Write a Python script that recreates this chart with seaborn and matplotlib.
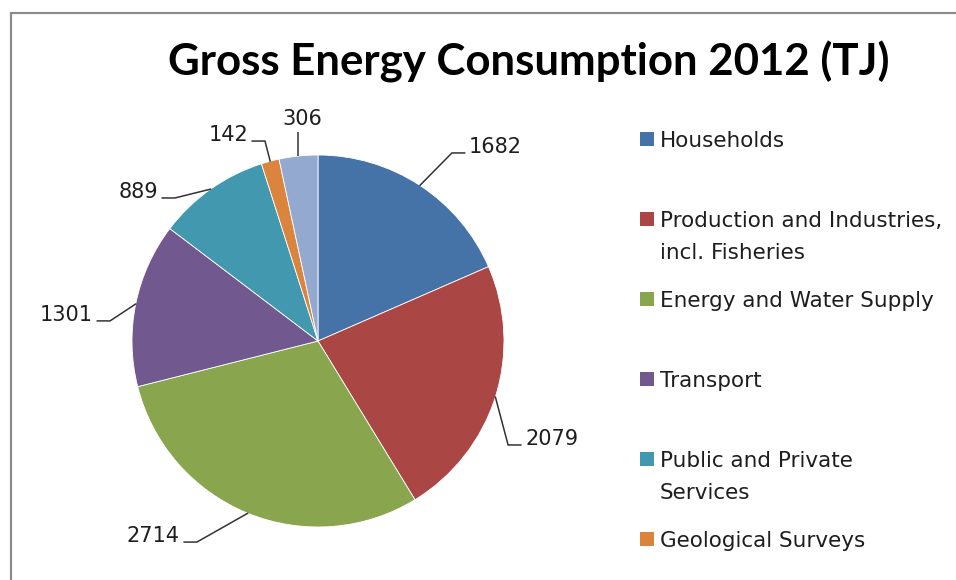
import numpy as np
import matplotlib
matplotlib.use("Agg")
import matplotlib.pyplot as plt
from matplotlib.lines import Line2D
from matplotlib.patches import Rectangle
import seaborn as sns

# Gross energy consumption by sector, 2012 (TJ)
sectors = [
    "Households",
    "Production and Industries,\nincl. Fisheries",
    "Energy and Water Supply",
    "Transport",
    "Public and Private\nServices",
    "Geological Surveys",
    "Other",
]
consumption_tj = [1682, 2079, 2714, 1301, 889, 142, 306]
colors = ["#4572A7", "#AA4643", "#89A54E", "#71588F", "#4198AF", "#DB843D", "#93A9CF"]

sns.set_theme(style="white")
plt.rcParams["font.family"] = ["DejaVu Sans"]

W, H, DPI = 956, 580, 100
fig = plt.figure(figsize=(W / DPI, H / DPI), dpi=DPI)
fig.patch.set_facecolor("white")

# pie axes: centre (318, 341) px, radius 186 px, limits +-1.5
R_PX = 186
cx, cy = 318, 341
box = 1.5 * 2 * R_PX
ax = fig.add_axes([(cx - box / 2) / W, (H - cy - box / 2) / H, box / W, box / H])
wedges, _ = ax.pie(
    consumption_tj,
    colors=colors,
    startangle=90,
    counterclock=False,
    radius=1.0,
    wedgeprops=dict(edgecolor="white", linewidth=0.6),
)
ax.set_xlim(-1.5, 1.5)
ax.set_ylim(-1.5, 1.5)
ax.set_aspect("equal")
ax.axis("off")

# leader-line layout: elbow point (pie units), direction of the label
elbows = [(0.720, 1.011), (1.022, -0.559), (-0.651, -1.081), (-1.118, 0.108),
          (-0.769, 0.769), (-0.285, 1.075), (-0.102, 1.124)]
sides = ["right", "right", "left", "left", "left", "left", "up"]
px = 1.0 / R_PX
label_font = dict(fontsize=15, color="#1e1e1e", family="DejaVu Sans")

for w, val, (ex, ey), side in zip(wedges, consumption_tj, elbows, sides):
    mid = np.deg2rad((w.theta1 + w.theta2) / 2)
    sx, sy = np.cos(mid), np.sin(mid)
    if side == "up":
        ax.plot([sx, sx], [sy, ey], color="#333333", lw=1.1, solid_capstyle="butt", clip_on=False)
        ax.text(sx + 4 * px, ey + 7 * px, f"{val}", ha="center", va="baseline", **label_font)
        continue
    d = 1 if side == "right" else -1
    endx = ex + d * 13 * px
    ax.plot([sx, ex, endx], [sy, ey, ey], color="#333333", lw=1.1,
            solid_joinstyle="miter", clip_on=False)
    ax.text(endx + d * 4 * px, ey, f"{val}", ha="left" if d > 0 else "right",
            va="baseline", **label_font)

# title
fig.text(529 / W, 1 - 62 / H, "Gross Energy Consumption 2012 (TJ)", ha="center", va="center",
         fontsize=31.5, fontweight="bold", family="Lato", color="black")

# legend: fixed 80 px slots; entries whose slot falls below the chart area are not shown
for i, (lab, col) in enumerate(zip(sectors, colors)):
    y0 = 139 + 80 * i
    if y0 + 20 > H:
        break
    fig.patches.append(Rectangle((640 / W, 1 - (y0 + 7) / H), 14 / W, 14 / H,
                                 transform=fig.transFigure, facecolor=col, edgecolor="none"))
    for j, line in enumerate(lab.split("\n")):
        fig.text(660 / W, 1 - (y0 + 32 * j) / H, line, ha="left", va="center_baseline",
                 fontsize=15.5, color="#1e1e1e", family="DejaVu Sans")

# chart frame (left and top edges)
fig.add_artist(Line2D([10.5 / W, 10.5 / W], [0, 1 - 13 / H], transform=fig.transFigure,
                      color="#8c8c8c", lw=1.6))
fig.add_artist(Line2D([10.5 / W, 1], [1 - 13 / H, 1 - 13 / H], transform=fig.transFigure,
                      color="#8c8c8c", lw=1.6))

fig.savefig("out.png", dpi=DPI, facecolor="white")
